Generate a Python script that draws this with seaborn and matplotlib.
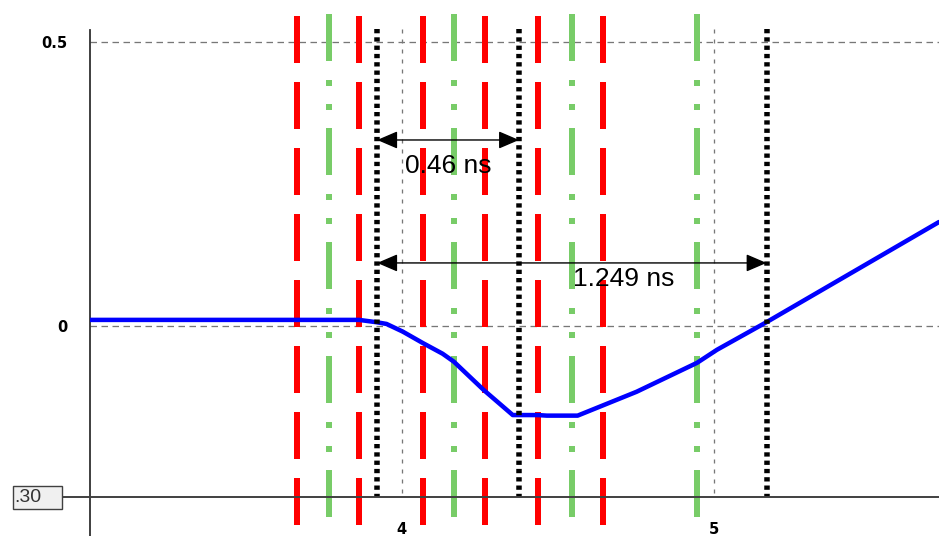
import matplotlib
matplotlib.use("Agg")
import matplotlib.pyplot as plt
import seaborn as sns
import numpy as np
from matplotlib.patches import Rectangle

# ---- data ----
signal_x = [3.0, 3.863, 3.919, 3.951, 4.003, 4.067, 4.131, 4.167, 4.263, 4.356,
            4.436, 4.465, 4.564, 4.753, 4.947, 5.011, 5.171, 5.723]
signal_y = [0.0106, 0.0106, 0.0065, 0.0035, -0.010, -0.030, -0.049, -0.063, -0.113, -0.157,
            -0.157, -0.158, -0.158, -0.116, -0.065, -0.042, 0.007, 0.183]
red_x = [3.664, 3.863, 4.068, 4.267, 4.437, 4.645]
green_x = [3.767, 4.167, 4.546, 4.947]
cursor_x = [3.921, 4.376, 5.170]
grid_x = [4, 5]
grid_y = [0, 0.5]
x_ticks = [4, 5]
x_tick_labels = ["4", "5"]
y_ticks = [0, 0.5]
y_tick_labels = ["0", "0.5"]
marker_level = -0.301
marker_label = ".30"
delta_labels = ["0.46 ns", "1.249 ns"]

# ---- figure ----
W, H = 939, 536
sns.set_style("white")
plt.rcParams["font.family"] = ["DejaVu Sans"]
plt.rcParams["text.color"] = "black"
plt.rcParams["xtick.color"] = "black"
plt.rcParams["ytick.color"] = "black"
fig = plt.figure(figsize=(W / 100, H / 100), dpi=100)
ax = fig.add_axes([90 / W, 0, 849 / W, 1])
ax.set_xlim(3.0, 5.723)
ax.set_ylim(-0.370, 0.574)


def py2y(p):
    return (326 - p) / 568.0


def pattern(px, lw_px):
    return (0, tuple(p / lw_px for p in px))


PT = 0.72  # points per pixel

# horizontal grid
for gy in grid_y:
    ax.plot([3.0, 5.723], [gy, gy], color="#777777", lw=1.3 * PT,
            linestyle=pattern([6.5, 4.5], 1.3), zorder=1)
# vertical grid
for gx in grid_x:
    ax.plot([gx, gx], [py2y(29), py2y(497)], color="#777777", lw=1.3 * PT,
            linestyle=pattern([4, 6], 1.3), zorder=1)

# red dashed
for rx in red_x:
    ax.plot([rx, rx], [py2y(16), py2y(525)], color="#ff0000", lw=6 * PT,
            linestyle=pattern([47, 19], 6), zorder=2)
# green dash-dot
for gx in green_x:
    ax.plot([gx, gx], [py2y(14), py2y(518)], color="#78cc68", lw=6 * PT,
            linestyle=pattern([47, 19, 6, 18, 6, 18], 6), zorder=2)

# signal
sns.lineplot(x=signal_x, y=signal_y, color="#0000ff", linewidth=4.5 * PT, ax=ax,
             zorder=3, legend=False)

# black dotted cursors
for cx in cursor_x:
    ax.plot([cx, cx], [py2y(29), py2y(497)], color="black", lw=5.5 * PT,
            linestyle=pattern([4.3, 4.0], 5.5), zorder=4)

# delta arrows
arrow_y = [py2y(140), py2y(263)]
for end, ay in zip(cursor_x[1:], arrow_y):
    ax.annotate("", xy=(end, ay), xytext=(cursor_x[0], ay),
                arrowprops=dict(arrowstyle="<|-|>,head_length=0.7,head_width=0.3",
                                color="black", lw=1.0, shrinkA=0, shrinkB=0,
                                mutation_scale=18), zorder=5)
ax.text(4.010, py2y(166), delta_labels[0], fontsize=19, family=["Liberation Sans"],
        color="black", ha="left", va="center", zorder=5)
ax.text(4.548, py2y(279), delta_labels[1], fontsize=19, family=["Liberation Sans"],
        color="black", ha="left", va="center", zorder=5)

# marker line and label box
ax.plot([-28 / 849, 1], [marker_level, marker_level], color="#404040", lw=1.4,
        transform=ax.get_yaxis_transform(), clip_on=False, zorder=5)
fig.add_artist(Rectangle((13 / W, (H - 509) / H), 49 / W, 23 / H,
                         facecolor="#f0f0f0", edgecolor="#404040", lw=1.0,
                         transform=fig.transFigure))
fig.text(14 / W, (H - 497.5) / H, marker_label, fontsize=14,
         family=["Liberation Sans"], color="#333333", ha="left", va="center")

# spines
for s in ["top", "right", "bottom"]:
    ax.spines[s].set_visible(False)
ax.spines["left"].set_bounds(-0.370, py2y(30))
ax.spines["left"].set_color("#303030")
ax.spines["left"].set_linewidth(1.3)

ax.set_xticks(x_ticks)
ax.set_xticklabels(x_tick_labels, fontweight="bold", fontsize=10.5)
ax.set_yticks(y_ticks)
ax.set_yticklabels(y_tick_labels, fontweight="bold", fontsize=10.5)
ax.tick_params(axis="x", length=0, pad=-10)
ax.tick_params(axis="y", length=0, pad=16.5)
ax.set_xlabel("")
ax.set_ylabel("")
ax.grid(False)

fig.savefig("out.png", dpi=100)
